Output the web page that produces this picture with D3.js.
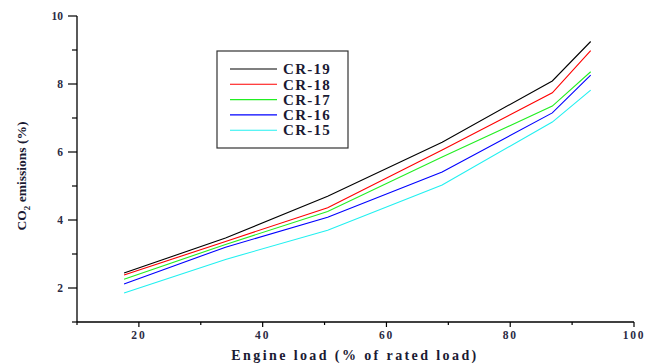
<!DOCTYPE html>
<html>
<head>
<meta charset="utf-8">
<script src="https://cdn.jsdelivr.net/npm/d3@7/dist/d3.min.js"></script>
<style>
  body { margin: 0; background: #fff; }
  text { font-family: "Liberation Serif", "DejaVu Serif", serif; font-weight: bold; }
</style>
</head>
<body>
<svg id="chart" width="647" height="364"></svg>
<script>
// data
const loads = [17.6, 34, 50.5, 69, 86.8, 93];
const seriesNames = ["CR-19", "CR-18", "CR-17", "CR-16", "CR-15"];
const seriesColors = ["#000000", "#ff0000", "#22ee22", "#0000ff", "#22f0f0"];
const cr19 = [2.44, 3.47, 4.70, 6.29, 8.09, 9.25];
const cr18 = [2.38, 3.37, 4.36, 6.06, 7.74, 8.98];
const cr17 = [2.26, 3.28, 4.25, 5.85, 7.35, 8.36];
const cr16 = [2.12, 3.20, 4.08, 5.41, 7.15, 8.26];
const cr15 = [1.85, 2.84, 3.70, 5.03, 6.88, 7.82];
const seriesValues = [cr19, cr18, cr17, cr16, cr15];
const xTicks = [20, 40, 60, 80, 100];
const yTicks = [2, 4, 6, 8, 10];

const svg = d3.select("#chart");

/// scales ///
const x = d3.scaleLinear().domain([10, 100]).range([77, 634]);
const y = d3.scaleLinear().domain([1, 10]).range([322, 16]);

/// axes ///
const tickCol = "#2b2b44";

// x axis
const gx = svg.append("g").attr("transform", `translate(0, ${y(1)})`);
gx.append("line").attr("x1", x(10)).attr("x2", x(100)).attr("stroke", "#000").attr("stroke-width", 1.3);
gx.selectAll(".minor").data(d3.range(10, 101, 10)).join("line")
  .attr("x1", d => x(d)).attr("x2", d => x(d))
  .attr("y1", 0).attr("y2", d => d % 20 === 0 ? 5 : 3)
  .attr("stroke", "#000").attr("stroke-width", 1.2);
gx.selectAll(".lab").data(xTicks).join("text")
  .attr("x", d => x(d)).attr("y", 17)
  .attr("text-anchor", "middle")
  .attr("font-size", 11.5).attr("fill", tickCol)
  .attr("letter-spacing", 1.8)
  .text(d => d);

// y axis
const gy = svg.append("g").attr("transform", `translate(${x(10)}, 0)`);
gy.append("line").attr("y1", y(1)).attr("y2", y(10)).attr("stroke", "#000").attr("stroke-width", 1.3);
gy.selectAll(".minor").data(d3.range(1, 10.5, 1)).join("line")
  .attr("y1", d => y(d)).attr("y2", d => y(d))
  .attr("x1", 0).attr("x2", d => d % 2 === 0 ? -9 : -5)
  .attr("stroke", "#000").attr("stroke-width", 1.2);
gy.selectAll(".lab").data(yTicks).join("text")
  .attr("x", -14).attr("y", d => y(d)).attr("dy", "0.35em")
  .attr("text-anchor", "end")
  .attr("font-size", 11.5).attr("fill", tickCol)
  .text(d => d);

// axis titles
svg.append("text")
  .attr("x", 355).attr("y", 360)
  .attr("text-anchor", "middle")
  .attr("font-size", 14).attr("fill", "#1a1a33")
  .attr("letter-spacing", 2.4)
  .text("Engine load (% of rated load)");

const yl = svg.append("text")
  .attr("transform", "translate(26, 176) rotate(-90)")
  .attr("text-anchor", "middle")
  .attr("font-size", 13.5).attr("fill", "#1a1a33");
yl.append("tspan").text("CO");
yl.append("tspan").attr("font-size", 9).attr("dy", 4).text("2");
yl.append("tspan").attr("dy", -4).text(" emissions (%)");

/// lines ///
const line = d3.line().x((d, i) => x(loads[i])).y(d => y(d));
svg.selectAll(".series").data(seriesValues).join("path")
  .attr("d", d => line(d))
  .attr("fill", "none")
  .attr("stroke", (d, i) => seriesColors[i])
  .attr("stroke-width", 1.1);

/// legend ///
const lg = svg.append("g");
lg.append("rect").attr("x", 217).attr("y", 51).attr("width", 131).attr("height", 97)
  .attr("fill", "#fff").attr("stroke", "#333").attr("stroke-width", 1.2);
const rows = lg.selectAll(".row").data(seriesNames).join("g")
  .attr("transform", (d, i) => `translate(0, ${69 + i * 15.3})`);
rows.append("line").attr("x1", 230).attr("x2", 277)
  .attr("stroke", (d, i) => seriesColors[i]).attr("stroke-width", 1.1);
rows.append("text").attr("x", 283).attr("dy", "0.35em")
  .attr("font-size", 15).attr("fill", "#1a1a33")
  .attr("letter-spacing", 1.3)
  .text(d => d);
</script>
</body>
</html>
